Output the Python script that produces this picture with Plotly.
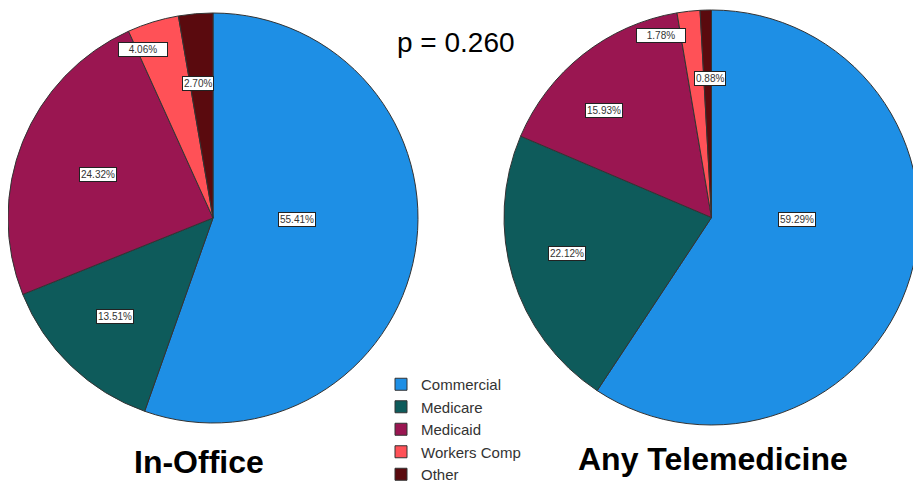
import math
import plotly.graph_objects as go

# Payer mix by visit type
payers = ["Commercial", "Medicare", "Medicaid", "Workers Comp", "Other"]
in_office = [55.41, 13.51, 24.32, 4.06, 2.70]
telemedicine = [59.29, 22.12, 15.93, 1.78, 0.88]
p_value = "p = 0.260"
group_names = ["In-Office", "Any Telemedicine"]

colors = ["#1E8FE5", "#0E5B5B", "#9A1651", "#FF5157", "#5A0A0E"]

W, H = 921, 486
OFF = 8  # page body margin: figure is drawn 8px in from the window corner


def px(x, y):
    """window pixel -> paper coords"""
    return (x - OFF) / W, 1 - (y - OFF) / H


# pie centre / radius in window pixels, label placement styling
pies = [
    dict(values=in_office, cx=213, cy=218, r=205,
         rad=[0.41, 0.68, 0.60, 0.89, 0.66], nudge=[-9, 1, -1.4, -5.7, -1.4],
         wide=[False, False, False, True, False]),
    dict(values=telemedicine, cx=711.5, cy=217.5, r=207.5,
         rad=[0.41, 0.72, 0.73, 0.91, 0.67], nudge=[-15.7, 2.6, -7, -9, 1],
         wide=[False, False, False, True, False]),
]

fig = go.Figure()
annotations = []
for i, p in enumerate(pies):
    x0, y1 = px(p["cx"] - p["r"], p["cy"] - p["r"])
    x1, y0 = px(p["cx"] + p["r"], p["cy"] + p["r"])
    fig.add_trace(go.Pie(
        labels=payers,
        values=p["values"],
        sort=False,
        direction="clockwise",
        rotation=0,
        textinfo="none",
        hoverinfo="label+percent",
        marker=dict(colors=colors, line=dict(color="#333333", width=1)),
        domain=dict(x=[max(x0, 0), min(x1, 1)], y=[max(y0, 0), min(y1, 1)]),
        showlegend=(i == 0),
    ))
    total = sum(p["values"])
    cum = 0
    for j, v in enumerate(p["values"]):
        mid = (cum + v / 2) / total * 360 + p["nudge"][j]
        cum += v
        th = math.radians(mid)
        d = p["rad"][j] * p["r"]
        x, y = px(p["cx"] + d * math.sin(th), p["cy"] - d * math.cos(th))
        ann = dict(
            x=x, y=y, xref="paper", yref="paper", showarrow=False,
            xanchor="center", yanchor="middle",
            text=f"{v:.2f}%",
            font=dict(family="Arial", size=10, color="#333333"),
            bgcolor="white", bordercolor="#222222", borderwidth=1, borderpad=1,
        )
        if p["wide"][j]:
            ann["width"] = 46
        annotations.append(ann)


def label(x, y, text, size):
    ax, ay = px(x, y)
    return dict(x=ax, y=ay, xref="paper", yref="paper", showarrow=False,
                xanchor="center", yanchor="middle", text=text,
                font=dict(family="Arial", size=size, color="black"))


annotations.append(label(456, 42, p_value, 28))
annotations.append(label(199, 462, f"<b>{group_names[0]}</b>", 32))
annotations.append(label(713, 459, f"<b>{group_names[1]}</b>", 32))

lx, ly = px(381, 368)
fig.update_layout(
    width=W, height=H,
    margin=dict(l=0, r=0, t=0, b=0, autoexpand=False),
    paper_bgcolor="white",
    plot_bgcolor="white",
    annotations=annotations,
    legend=dict(
        x=lx, y=ly, xanchor="left", yanchor="top",
        font=dict(family="Arial", size=15, color="#333333"),
        bgcolor="rgba(0,0,0,0)", traceorder="normal",
        tracegroupgap=0, itemwidth=30,
    ),
)

fig.write_html("out.html")
